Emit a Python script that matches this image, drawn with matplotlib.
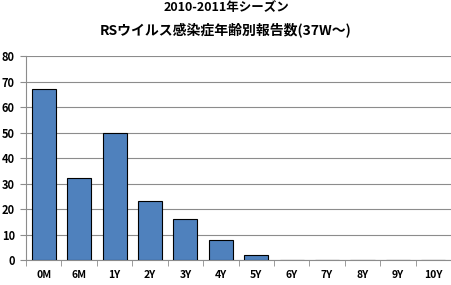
import matplotlib
matplotlib.use("Agg")
import matplotlib.pyplot as plt
import numpy as np

plt.rcParams['font.family'] = ['Noto Sans CJK JP', 'DejaVu Sans']

categories = ["0M", "6M", "1Y", "2Y", "3Y", "4Y", "5Y", "6Y", "7Y", "8Y", "9Y", "10Y"]
values = [67, 32, 50, 23, 16, 8, 2, 0, 0, 0, 0, 0]
yticks = [0, 10, 20, 30, 40, 50, 60, 70, 80]
title_line1 = "2010-2011年シーズン"
title_line2 = "RSウイルス感染症年齢別報告数(37W～)"

fig = plt.figure(figsize=(4.52, 2.85), dpi=100)
ax = fig.add_axes([0.0575, 0.0877, 0.9405, 0.7158])
x = np.arange(len(categories))
ax.bar(x, values, width=0.68, color="#4F81BD", edgecolor="black", linewidth=0.8, zorder=3)
ax.set_xlim(-0.5, len(categories) - 0.5)
ax.set_ylim(0, 80)
ax.set_yticks(yticks)
ax.set_yticklabels([str(v) for v in yticks], fontsize=8, fontweight='bold')
ax.yaxis.grid(True, color="#8c8c8c", linewidth=0.8, zorder=0)
ax.set_xticks(x)
ax.set_xticklabels(categories, fontsize=7.5, fontweight='bold')
ax.tick_params(axis='x', length=0, pad=7)
ax.set_xticks(np.arange(-0.5, len(categories), 1), minor=True)
ax.tick_params(axis='x', which='minor', length=4, color="#8c8c8c", direction='out')
ax.tick_params(axis='y', length=4, color="#8c8c8c", pad=4)
for s in ['top', 'right']:
    ax.spines[s].set_visible(False)
ax.spines['left'].set_color("#8c8c8c")
ax.spines['bottom'].set_color("#8c8c8c")
fig.text(0.5, 1 - 7.5 / 285, title_line1, ha='center', va='center', fontsize=9, fontweight='bold')
fig.text(0.5, 1 - 30 / 285, title_line2, ha='center', va='center', fontsize=10, fontweight='bold')
fig.savefig("out.png", dpi=100)
